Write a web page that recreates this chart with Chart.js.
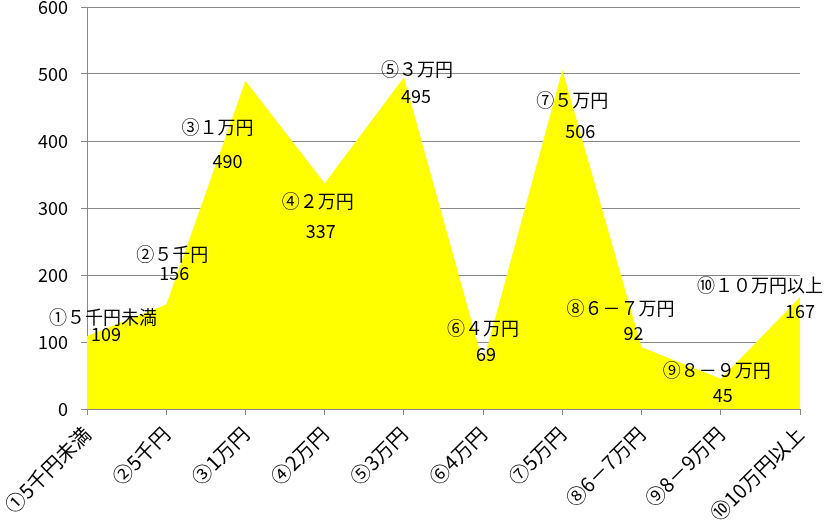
<!DOCTYPE html>
<html>
<head>
<meta charset="utf-8">
<script src="https://cdn.jsdelivr.net/npm/chart.js@4/dist/chart.umd.min.js"></script>
<style>
  html, body { margin: 0; padding: 0; background: #fff; }
  #wrap { width: 825px; height: 530px; }
</style>
</head>
<body>
<div id="wrap"><canvas id="chart"></canvas></div>
<script>
const categories = ['①５千円未満', '②５千円', '③１万円', '④２万円', '⑤３万円', '⑥４万円', '⑦５万円', '⑧６－７万円', '⑨８－９万円', '⑩１０万円以上'];
const counts = [109, 156, 490, 337, 495, 69, 506, 92, 45, 167];
const yTicks = [0, 100, 200, 300, 400, 500, 600];

// where each point's label pair sits, relative to the point (px)
const nameOffsets = [[16, -19], [6, -50], [-28, 46], [-7, 18], [13, -8], [0, -35], [10, 30], [-21, -39], [-4, -9], [-40, -12]];
const valueOffsets = [[19, -2], [8, -31], [-18, 80], [-4, 48], [12, 19], [3, -9], [18, 61], [-8, -14], [2, 16], [0, 14]];

const FONT = '"Noto Sans CJK JP", "Noto Sans", sans-serif';

// axis labels show half-width digits
const halfWidth = s => s.replace(/[０-９]/g, c => String.fromCharCode(c.charCodeAt(0) - 0xFEE0));

const pointLabels = {
  id: 'pointLabels',
  afterDatasetsDraw(chart) {
    const ctx = chart.ctx;
    const meta = chart.getDatasetMeta(0);
    ctx.save();
    ctx.fillStyle = '#000';
    ctx.textAlign = 'center';
    ctx.textBaseline = 'middle';
    ctx.font = '18px ' + FONT;
    meta.data.forEach((pt, i) => {
      ctx.fillText(categories[i], pt.x + nameOffsets[i][0], pt.y + nameOffsets[i][1]);
      ctx.fillText(String(counts[i]), pt.x + valueOffsets[i][0], pt.y + valueOffsets[i][1]);
    });
    ctx.restore();
  }
};

new Chart(document.getElementById('chart').getContext('2d'), {
  type: 'line',
  data: {
    labels: categories,
    datasets: [{
      data: counts,
      fill: 'origin',
      backgroundColor: '#ffff00',
      borderWidth: 0,
      pointRadius: 0,
      tension: 0
    }]
  },
  options: {
    responsive: true,
    maintainAspectRatio: false,
    animation: false,
    layout: { padding: { top: 0, right: 25, left: 0, bottom: 0 } },
    plugins: { legend: { display: false }, tooltip: { enabled: false } },
    scales: {
      x: {
        offset: false,
        grid: { drawOnChartArea: false, drawTicks: true, tickLength: 6, color: '#888' },
        border: { color: '#888' },
        ticks: {
          minRotation: 45, maxRotation: 45, color: '#000', padding: 7,
          font: { family: FONT, size: 20 },
          callback(v) { return halfWidth(categories[v]); }
        },
        afterFit(scale) { scale.height = 121; }
      },
      y: {
        min: 0,
        max: 600,
        afterBuildTicks(scale) { scale.ticks = yTicks.map(v => ({ value: v })); },
        grid: { color: '#888', tickLength: 6 },
        border: { color: '#888' },
        ticks: { color: '#000', font: { family: FONT, size: 18 }, padding: 13 },
        afterFit(scale) {
          scale.width = 87;
          scale.paddingTop = 7;
        }
      }
    }
  },
  plugins: [pointLabels]
});
</script>
</body>
</html>
